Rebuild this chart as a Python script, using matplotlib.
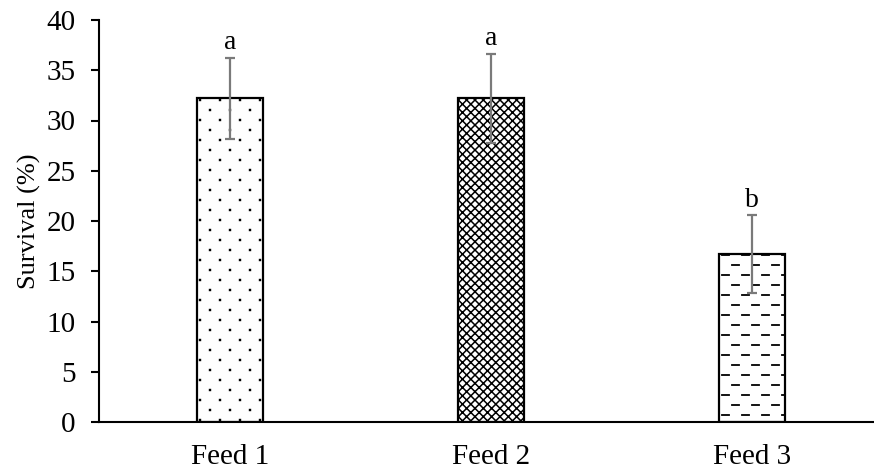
import numpy as np
import matplotlib
matplotlib.use("Agg")
import matplotlib.pyplot as plt
import matplotlib.hatch as mhatch
from matplotlib.path import Path

# ---- data ----
categories = ["Feed 1", "Feed 2", "Feed 3"]
survival = [32.2, 32.2, 16.7]
errors = [4.0, 4.4, 3.85]
letters = ["a", "a", "b"]
hatches = [".", "xxxx", "-"]


# ---- custom hatch patterns (staggered dots and staggered dashes) ----
class DotLattice(mhatch.HatchPatternBase):
    rows, cols, s = 10, 5, 0.003

    def __init__(self, hatch, density):
        pts = []
        if hatch.count('.'):
            for r in range(self.rows + 1):
                y = r / self.rows
                off = 0.0 if r % 2 == 0 else 0.5 / self.cols
                for c in range(self.cols + 1):
                    x = c / self.cols + off
                    if x <= 1.0 + 1e-9:
                        pts.append((x, y))
        self.pts = pts
        self.num_vertices = len(pts) * 5

    def set_vertices_and_codes(self, vertices, codes):
        s = self.s
        sq = np.array([[-s, -s], [s, -s], [s, s], [-s, s], [-s, -s]])
        for i, (x, y) in enumerate(self.pts):
            vertices[i * 5:(i + 1) * 5] = sq + [x, y]
            codes[i * 5] = Path.MOVETO
            codes[i * 5 + 1:i * 5 + 4] = Path.LINETO
            codes[i * 5 + 4] = Path.CLOSEPOLY


class DashLattice(mhatch.HatchPatternBase):
    rows, cols, length = 10, 5, 0.07

    def __init__(self, hatch, density):
        segs = []
        if hatch.count('-'):
            for r in range(self.rows):
                y = (r + 0.5) / self.rows
                off = 0.0 if r % 2 == 0 else 0.5 / self.cols
                for c in range(-1, self.cols + 1):
                    x0 = c / self.cols + off + 0.02
                    segs.append((x0, y))
        self.segs = segs
        self.num_vertices = len(segs) * 2

    def set_vertices_and_codes(self, vertices, codes):
        for i, (x, y) in enumerate(self.segs):
            vertices[2 * i] = (x, y)
            vertices[2 * i + 1] = (x + self.length, y)
            codes[2 * i] = Path.MOVETO
            codes[2 * i + 1] = Path.LINETO


mhatch._hatch_types[:] = [DashLattice, mhatch.VerticalHatch, mhatch.NorthEastHatch,
                          mhatch.SouthEastHatch, mhatch.SmallCircles,
                          mhatch.LargeCircles, DotLattice, mhatch.Stars]

plt.rcParams['font.family'] = ['Liberation Serif', 'DejaVu Serif']
plt.rcParams['hatch.linewidth'] = 1.3
plt.rcParams['hatch.color'] = 'black'

fig = plt.figure(figsize=(8.74, 4.72), dpi=100)
ax = fig.add_axes([99 / 874, 1 - 422 / 472, 1 - 99 / 874, (422 - 20) / 472])

x = np.arange(len(categories))
bars = ax.bar(x, survival, width=0.253, color='white', edgecolor='black',
              linewidth=1.6, zorder=2)
per_patch_lw = hasattr(bars[0], 'set_hatch_linewidth')
for i, (b, h) in enumerate(zip(bars, hatches)):
    if h.startswith('x') and not per_patch_lw:
        h = 'xxx'
    b.set_hatch(h)
    if h.startswith('x') and per_patch_lw:
        b.set_hatch_linewidth(1.1)

ax.errorbar(x, survival, yerr=errors, fmt='none', ecolor='#7a7a7a',
            elinewidth=1.6, capsize=3.6, capthick=1.6, zorder=3)

for xi, m, e, t in zip(x, survival, errors, letters):
    ax.annotate(t, (xi, m + e), xytext=(0, 2), textcoords='offset points',
                ha='center', va='bottom', fontsize=20)

ax.set_xlim(-0.502, 2.467)
ax.set_ylim(0, 40)
ax.set_yticks(np.arange(0, 41, 5))
ax.set_xticks(x)
ax.set_xticklabels(categories)
ax.tick_params(axis='y', length=6, width=1.5, labelsize=21, pad=11, direction='out')
ax.tick_params(axis='x', length=0, labelsize=21, pad=16)
ax.set_ylabel('Survival (%)', fontsize=19, labelpad=4)

for side in ['top', 'right']:
    ax.spines[side].set_visible(False)
for side in ['left', 'bottom']:
    ax.spines[side].set_linewidth(1.5)

fig.savefig('out.png', dpi=100)
